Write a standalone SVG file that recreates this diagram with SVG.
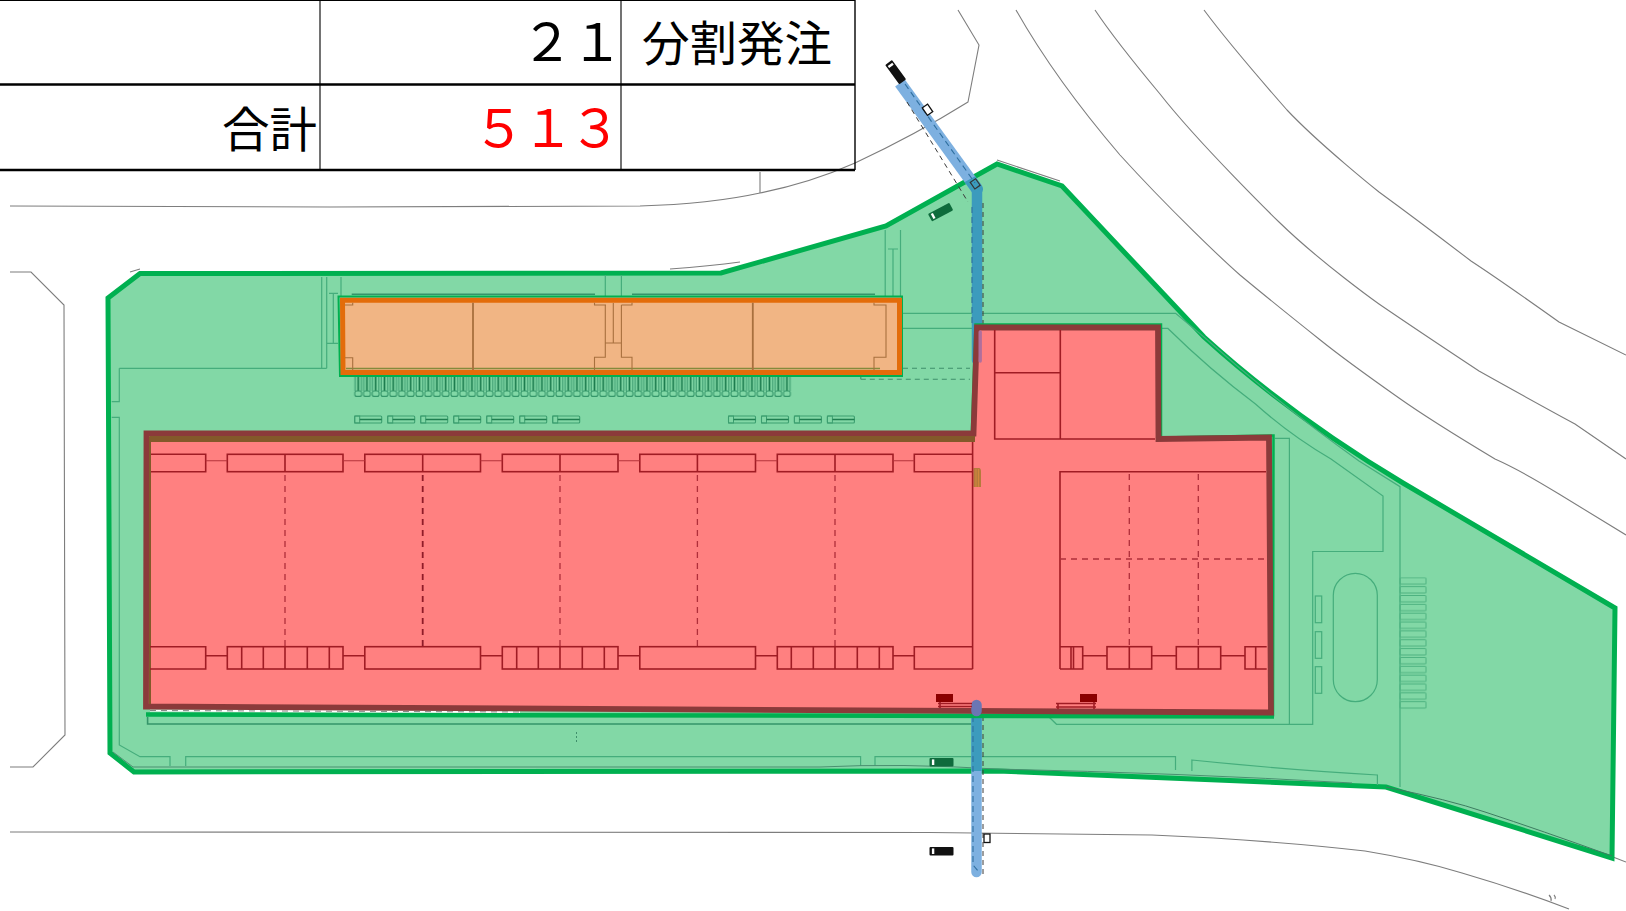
<svg xmlns="http://www.w3.org/2000/svg" width="1626" height="911" viewBox="0 0 1626 911">
<style>
.road{fill:none;stroke:#7d7d7d;stroke-width:1.1}
.cad{fill:none;stroke:#45ad7c;stroke-width:1.2}
.cadd{fill:none;stroke:#35946a;stroke-width:1.6}
.wall{fill:none;stroke:#a01c24;stroke-width:1.6}
.thin{fill:none;stroke:#b5333a;stroke-width:1.1}
.dash{fill:none;stroke:#b02f3a;stroke-width:1.3;stroke-dasharray:6 5}
.bl{fill:none;stroke:#3a3a3a;stroke-width:1;stroke-dasharray:5 4}
.blb{fill:none;stroke:#2f6f9f;stroke-width:1.1;stroke-dasharray:6 4}
.org{fill:none;stroke:#a8703e;stroke-width:1.1}
.grid{stroke:#000;fill:none}
.t{font-family:"Noto Sans CJK JP","Liberation Sans",sans-serif;font-size:47.5px;fill:#000}
.n{font-family:"Noto Sans CJK JP","Liberation Sans",sans-serif;font-size:52px;font-weight:400}
</style>
<defs>
<clipPath id="siteclip"><path d="M108,298 L140,273.5 L721,273 L886,226 L997,164 L1062,186 L1204,337 Q1290,415 1403,483 L1615,608 L1612,858 L1386,787 L997,771 L134,772 L110,753 Z"/></clipPath>
<pattern id="spots" patternUnits="userSpaceOnUse" x="353.8" y="375" width="8.75" height="22">
<path d="M4.4,0V16" stroke="#17784a" stroke-width="1.7" fill="none"/>
<path d="M1.2,0V16M7.6,0V16" stroke="#35976a" stroke-width="1" fill="none"/>
<rect x="1" y="16" width="6.8" height="5.4" rx="2" fill="none" stroke="#35976a" stroke-width="1.1"/>
</pattern>
<pattern id="stripes" patternUnits="userSpaceOnUse" x="1399.5" y="577.3" width="27" height="8.85">
<rect x=".5" y=".5" width="26" height="6.3" rx="1" fill="none" stroke="#4db280" stroke-width="1"/>
</pattern>
<g id="bike"><rect x="0" y="0" width="27" height="7" rx="1" fill="none" stroke="#3c9f70" stroke-width="1.1"/><rect x="0" y="0" width="5" height="7" fill="none" stroke="#3c9f70" stroke-width="1"/><path d="M5,3.5H27" stroke="#1f7f50" stroke-width="1.5"/></g>
<g id="bus"><rect x="0" y="0" width="24" height="8.5" rx="1"/><rect x="2.4" y="1.4" width="2.4" height="5.6" fill="#fff"/></g>
</defs>
<rect width="1626" height="911" fill="#fff"/>

<g id="roads">
<path class="road" d="M10,206 L330,207 L640,206 Q710,204 760,193 Q810,183 855,163 Q915,135 968,102 L979,45 L958,10"/>
<path class="road" d="M760,172V193"/>
<path class="road" d="M10,272H31L64,305L65,735L33,767H10"/>
<path class="road" d="M1016,10 C1050,70 1096,127 1120,155 C1170,210 1224,261 1240,275 C1270,300 1319,339 1319,339 C1345,360 1399,398 1399,398 C1430,420 1495,459 1495,459 C1520,470 1559,494 1559,494 L1626,535"/>
<path class="road" d="M1095,10 C1115,40 1160,94 1160,94 C1200,145 1279,222 1279,222 C1320,262 1379,304 1379,304 C1420,332 1479,371 1479,371 C1520,394 1575,424 1575,424 L1626,459"/>
<path class="road" d="M1204,10 C1230,45 1287,110 1287,110 C1320,145 1379,192 1379,192 C1420,222 1471,261 1471,261 C1500,280 1559,322 1559,322 L1626,355"/>
<path class="road" d="M10,832 L930,832.5 L1152,835 Q1270,840 1365,851 Q1420,860 1462,873 Q1520,890 1569,909"/>
<path class="road" d="M1613,857L1626,862"/>
<path class="road" d="M1549,895q3,3 2,6M1554,895q2,2 1,4" stroke-width=".8"/>
<path class="road" d="M670,269Q710,266 740,262M997,160L1060,181M130,272L140,269"/>
</g>

<g id="site">
<path d="M108,298 L140,273.5 L721,273 L886,226 L997,164 L1062,186 L1204,337 Q1290,415 1403,483 L1615,608 L1612,858 L1386,787 L997,771 L134,772 L110,753 Z" fill="#82d8a6" stroke="#00b050" stroke-width="5" stroke-linejoin="miter"/>
</g>

<g id="site-cad">
<path class="cad" d="M321.7,277V368.3M326.7,277V368.3M341,277V296M119.3,368.3H326.7M119.3,368.3V401.7H111.7M111.7,417.3H119.3V745L140,756.7H170V766M185.7,766V756.7H860.6V766M875,766V756.7H1175.5V770M1191.9,771V760Q1290,770 1377.4,775V785"/>
<path class="cad" d="M333.3,293.3V343.3M326.7,343.3H338M329,293.3H338M605.3,275V296M621.4,275V296M885.2,230V297M900.5,230V297M893,249V297M888,249H898"/>
<path class="cadd" d="M351.7,294.3H595M632,294.3H875"/>
<path class="cad" d="M903,313.3H1175.6L1204,337Q1280,405 1359,461L1400,486.7V787"/>
<path class="cad" d="M903,328.3H1167.7Q1210,370 1255.5,404Q1290,435 1331,459L1383,496V551.5H1312.7V724.3H1056.5L1049,717"/>
<path class="cad" d="M1275,438.3H1289.4V724.3"/>
<path class="cadd" d="M147.6,717V724H972.6L981,718"/>
<rect class="cad" x="1333.3" y="573.3" width="44" height="128.4" rx="22"/>
<rect class="cad" x="1315.3" y="596" width="6.4" height="26.7"/>
<rect class="cad" x="1315.3" y="631.7" width="6.4" height="26.6"/>
<rect class="cad" x="1315.3" y="666.7" width="6.4" height="26.6"/>
<rect x="1399.5" y="577.3" width="27" height="132.7" fill="url(#stripes)"/>
<rect x="353.8" y="375" width="437.5" height="22" fill="url(#spots)"/>
<path d="M903,368.3H970M860.8,379.3H970M860.8,375V379.3" fill="none" stroke="#3f8f6b" stroke-width="1.1" stroke-dasharray="5 4"/>
<path d="M576.5,732V742" fill="none" stroke="#3f8f6b" stroke-width="1" stroke-dasharray="2 2"/>
<path d="M113,752L133,767H820Q900,763 996,769Q1180,773 1352,783" fill="none" stroke="#4a8f70" stroke-width="1"/>
<path d="M1386,787Q1450,800 1485,812Q1540,830 1612,856" fill="none" stroke="#3d7c60" stroke-width="1"/>
<g fill="none">
<use href="#bike" x="354.7" y="416"/><use href="#bike" x="387.7" y="416"/><use href="#bike" x="420.7" y="416"/><use href="#bike" x="453.7" y="416"/><use href="#bike" x="486.7" y="416"/><use href="#bike" x="519.7" y="416"/><use href="#bike" x="552.7" y="416"/>
<use href="#bike" x="728.5" y="416"/><use href="#bike" x="761.5" y="416"/><use href="#bike" x="794.4" y="416"/><use href="#bike" x="827.4" y="416"/>
</g>
</g>

<g id="access">
<path d="M900,83L977,189" fill="none" stroke="#7db0e0" stroke-width="12"/>
<path d="M976.5,706V872" fill="none" stroke="#7db0e0" stroke-width="10.5" stroke-linecap="round"/>
<g clip-path="url(#siteclip)">
<path d="M900,83L977,189" fill="none" stroke="#3c9bbd" stroke-width="12" stroke-linecap="round"/>
<path d="M977,189V360" fill="none" stroke="#3c9bbd" stroke-width="10.5" stroke-linecap="round"/>
<path d="M976.5,706V872" fill="none" stroke="#3c9bbd" stroke-width="10.5" stroke-linecap="round"/>
</g>
<path class="bl" d="M907,102L968,202M983,203V325M983,716V877"/>
<path class="blb" d="M905,84L975,183M972,207V325M973,716V865L979,872"/>
<rect x="924.5" y="105" width="6.5" height="9" transform="rotate(-35 928 110)" fill="#fff" stroke="#111" stroke-width="1.3"/>
<rect x="972" y="180" width="6.5" height="8" transform="rotate(-35 975 184)" fill="none" stroke="#333" stroke-width="1.2"/>
<rect x="984" y="834" width="6" height="8.5" fill="#fff" stroke="#111" stroke-width="1.3"/>
<use href="#bus" transform="translate(892,60) rotate(54)" fill="#111"/>
<use href="#bus" transform="translate(928,214) rotate(-28)" fill="#0e6b3c"/>
<use href="#bus" x="929.5" y="758" fill="#0e6b3c"/>
<use href="#bus" x="929.5" y="847" fill="#111"/>
</g>

<g id="warehouse">
<path d="M1273,716.5L1273.5,435.5L1161,437.5V324.5H975.5L972,430" fill="none" stroke="#00b050" stroke-width="2.5"/>
<path d="M146,714.5L1274,716.5" fill="none" stroke="#00b050" stroke-width="4.5"/>
<path d="M150,710.5L520,712" stroke="#fff" stroke-width="2.2" fill="none"/>
<path d="M150,710.5L520,712" stroke="#666" stroke-width=".8" stroke-dasharray="6 5" fill="none"/>
<path id="warehouse-body" d="M146.5,433.5H973.5L977,327.5H1158L1158.5,439L1269,437.5L1271,712.5L146,706.5Z" fill="#ff8080" stroke="#8b3a3a" stroke-width="5.8" stroke-linejoin="miter"/>
<path d="M149.5,439H975" stroke="#83592a" stroke-width="6" fill="none"/>
<path d="M150,437V704" stroke="#83592a" stroke-width="2" fill="none"/>
<path d="M980.2,332V361" stroke="#b06f9c" stroke-width="3.4" stroke-linecap="round" fill="none"/>
<path d="M976.5,705V711" stroke="#6b76b3" stroke-width="10.5" stroke-linecap="round" fill="none"/>
<path d="M973.5,468H979Q981,468 981,472V487H973.5Z" fill="#b57a3c"/>
<path d="M976,469V487M978.5,469V487" stroke="#d98a3c" stroke-width=".8" fill="none"/>

<g class="wall">
<path class="wall" d="M151,454.3H205.7V471.7H151"/>
<rect class="wall" x="227.3" y="454.3" width="115.7" height="17.4"/>
<rect class="wall" x="364.8" y="454.3" width="115.7" height="17.4"/>
<rect class="wall" x="502.3" y="454.3" width="115.7" height="17.4"/>
<rect class="wall" x="639.8" y="454.3" width="115.7" height="17.4"/>
<rect class="wall" x="777.3" y="454.3" width="115.7" height="17.4"/>
<path class="wall" d="M972.6,454.3H914.3V471.7H972.6"/>
<path class="wall" d="M285,454.3V471.7M422.7,454.3V471.7M560,454.3V471.7M697.4,454.3V471.7M835,454.3V471.7"/>
<path class="thin" d="M205.7,460.7H227.3M343,460.7H364.8M480.5,460.7H502.3M618,460.7H639.8M755.5,460.7H777.3M893,460.7H914.3"/>
<path class="dash" d="M285,475V647M560,475V647M697.4,475V647M835,475V647"/>
<path class="dash" d="M422.7,475V647" style="stroke:#8f1c28;stroke-width:1.8"/>
<path class="wall" d="M150,646.7H205.7V669H150"/>
<rect class="wall" x="227.3" y="646.7" width="115.7" height="22.3"/>
<rect class="wall" x="364.8" y="646.7" width="115.7" height="22.3"/>
<rect class="wall" x="502.3" y="646.7" width="115.7" height="22.3"/>
<rect class="wall" x="639.8" y="646.7" width="115.7" height="22.3"/>
<rect class="wall" x="777.3" y="646.7" width="115.7" height="22.3"/>
<path class="wall" d="M972.6,646.7H914.3V669H972.6"/>
<path class="wall" d="M241.7,646.7V669M263.3,646.7V669M285,646.7V669M307.3,646.7V669M329.3,646.7V669"/>
<path class="wall" d="M516.7,646.7V669M538.3,646.7V669M560,646.7V669M582.3,646.7V669M604.3,646.7V669"/>
<path class="wall" d="M791.3,646.7V669M813.3,646.7V669M835,646.7V669M857.3,646.7V669M879.3,646.7V669"/>
<path class="wall" d="M205.7,655.7H227.3M343,655.7H364.8M480.5,655.7H502.3M618,655.7H639.8M755.5,655.7H777.3M893,655.7H914.3"/>
<path class="wall" d="M972.6,442V669"/>
<path class="wall" d="M994.7,330V439H1155M1060.3,330V439M994.7,372.7H1060.3"/>
<path class="wall" d="M1266,471.7H1060V669"/>
<path class="dash" d="M1129.3,474V647M1198.3,474V647M1060,559H1266"/>
<path class="wall" d="M1060,646.7H1082.7V669H1060M1071,646.7V669M1073.5,646.7V669"/>
<rect class="wall" x="1107" y="646.7" width="44.7" height="22.3"/>
<rect class="wall" x="1176.3" y="646.7" width="44.4" height="22.3"/>
<path class="wall" d="M1266.7,646.7H1245V669H1266.7M1255.7,646.7V669M1129.3,646.7V669M1198.3,646.7V669"/>
<path class="wall" d="M1082.7,655.7H1107M1151.7,655.7H1176.3M1220.7,655.7H1245"/>
</g>
<rect x="936" y="694" width="17" height="8" fill="#8b0000"/>
<rect x="1080" y="694" width="17" height="8" fill="#8b0000"/>
<path d="M938,703.5H972M938,706.5H972M940,702V708" class="wall"/>
<path d="M1056,703.5H1096M1056,707H1096M1058,703V709M1094,702V709" class="wall"/>
</g>

<g id="annex">
<path d="M338.5,296.5H902V376H340Z" fill="none" stroke="#00b050" stroke-width="2"/>
<path d="M342.5,300.3H899.5V372.5H343Z" fill="#f1b584" stroke="#e36c0a" stroke-width="5"/>
<path d="M346,368.5H880" stroke="#858a3c" stroke-width="1.5" fill="none"/>
<path d="M473,302.8V370M752.8,302.8V370" fill="none" stroke="#a8703e" stroke-width="1.8"/>
<path class="org" d="M345,305H352.7V302.8M345,357.7H352.7V370M594.5,302.8V305H606M632,302.8V305H621.4M605.3,305V343M621.4,305V343M605.3,343H621.4V357.3H632V370M605.3,343V357.3H594.5V370M613.3,303V343"/>
<path class="org" d="M874,302.8V305H886V357.3H874V370"/>
</g>

<g id="table">
<path class="grid" d="M0,.5H855" stroke="#777" stroke-width="1"/>
<path class="grid" d="M320,0V170M621,0V170" stroke-width="1.1"/>
<path class="grid" d="M855,0V170" stroke-width="1.4"/>
<path class="grid" d="M0,84.5H855M0,170H855" stroke-width="2.4"/>
<text class="n" x="521 571" y="61" fill="#000">２１</text>
<text class="t" x="642" y="61">分割発注</text>
<text class="t" x="222" y="147">合計</text>
<text class="n" x="473 522 569" y="147" fill="#f00">５１３</text>
</g>
</svg>
